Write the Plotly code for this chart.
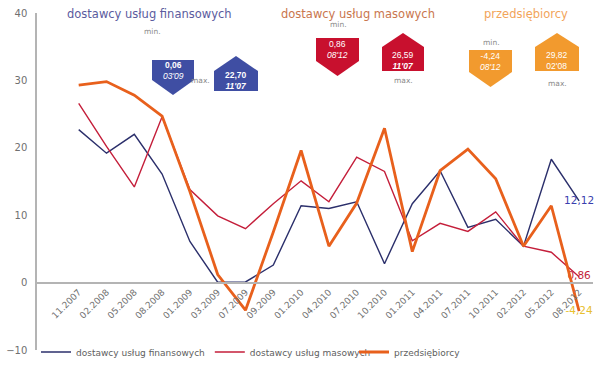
import plotly.graph_objects as go

categories = ["11.2007", "02.2008", "05.2008", "08.2008", "01.2009", "03.2009", "07.2009",
              "09.2009", "01.2010", "04.2010", "07.2010", "10.2010", "01.2011", "04.2011",
              "07.2011", "10.2011", "02.2012", "05.2012", "08.2012"]

finansowe = [22.70, 19.2, 22.0, 16.1, 6.1, 0.06, 0.1, 2.6, 11.4, 11.0, 12.0, 2.8, 11.7, 16.6,
             8.2, 9.4, 5.4, 18.3, 12.12]
masowe = [26.59, 20.2, 14.2, 24.6, 13.8, 9.9, 8.0, 11.7, 15.1, 12.0, 18.6, 16.5, 6.2, 8.8,
          7.6, 10.5, 5.4, 4.5, 0.86]
przedsiebiorcy = [29.3, 29.82, 27.8, 24.7, 13.5, 1.2, -4.1, 7.5, 19.6, 5.4, 11.8, 22.9, 4.6,
                  16.6, 19.8, 15.4, 5.4, 11.4, -4.24]

series_names = ["dostawcy usług finansowych", "dostawcy usług masowych", "przedsiębiorcy"]
line_colors = ["#2b2f6b", "#c41e3a", "#e8601c"]
line_widths = [1.4, 1.4, 2.8]
label_colors = ["#3a3fae", "#c41e3a", "#e8c030"]
box_colors = ["#3f4ea3", "#c8102e", "#f29a2e"]
title_colors = ["#5b5b9e", "#c9764e", "#f2a45a"]

W, H = 600, 383
L, R, T, B = 37, 593, 13, 350


def px2x(px):
    return (px - L) / (R - L)


def py2y(py):
    return (B - py) / (B - T)


def fmt(v):
    return f"{v:.2f}".replace(".", ",")


def date_lbl(c):
    m, y = c.split(".")
    return f"{m}'{y[2:]}"


fig = go.Figure()
all_series = [finansowe, masowe, przedsiebiorcy]
for i, (name, vals) in enumerate(zip(series_names, all_series)):
    txt = [""] * (len(vals) - 1) + [fmt(vals[-1])]
    fig.add_trace(go.Scatter(
        x=categories, y=vals, name=name, mode="lines+text",
        line=dict(color=line_colors[i], width=line_widths[i]),
        text=txt, textposition="middle center",
        textfont=dict(family="DejaVu Sans", size=10.5, color=label_colors[i]),
        legend="legend" if i < 2 else "legend2",
        cliponaxis=False,
    ))

# decorative min/max boxes (pixel layout)
box_layout = [
    (149, (152, 194, 60, 80, 95), (214, 258, 56, 71, 91), (152, 32), (212, 80, "right")),
    (358, (316, 359, 38, 61, 76), (382, 424, 33, 47, 71), (338, 24), (403, 81, "center")),
    (526, (469, 512, 50, 72, 87), (535, 579, 33, 47, 71), (491, 43), (557, 84, "center")),
]

shapes = []
annotations = []


def ann(px, py, text, size, color, family="DejaVu Sans", xanchor="center"):
    annotations.append(dict(x=px2x(px), y=py2y(py), xref="paper", yref="paper", text=text,
                            showarrow=False, xanchor=xanchor, yanchor="middle",
                            font=dict(family=family, size=size, color=color)))


for i, vals in enumerate(all_series):
    tcx, mn, mx, mnl, mxl = box_layout[i]
    ann(tcx, 14, series_names[i], 11.5, title_colors[i])
    x0, x1, yt, yrb, ytip = mn
    xc = (x0 + x1) / 2
    shapes.append(dict(type="path", xref="paper", yref="paper", fillcolor=box_colors[i],
                       line=dict(width=0),
                       path=f"M{px2x(x0)},{py2y(yt)} L{px2x(x1)},{py2y(yt)} L{px2x(x1)},{py2y(yrb)} "
                            f"L{px2x(xc)},{py2y(ytip)} L{px2x(x0)},{py2y(yrb)} Z"))
    x0b, x1b, ytb, ysh, ybot = mx
    xcb = (x0b + x1b) / 2
    shapes.append(dict(type="path", xref="paper", yref="paper", fillcolor=box_colors[i],
                       line=dict(width=0),
                       path=f"M{px2x(xcb)},{py2y(ytb)} L{px2x(x1b)},{py2y(ysh)} L{px2x(x1b)},{py2y(ybot)} "
                            f"L{px2x(x0b)},{py2y(ybot)} L{px2x(x0b)},{py2y(ysh)} Z"))
    imin = min(range(len(vals)), key=lambda k: vals[k])
    imax = max(range(len(vals)), key=lambda k: vals[k])
    bold = i == 0
    v1 = fmt(vals[imin])
    d1 = date_lbl(categories[imin])
    v2 = fmt(vals[imax])
    d2 = date_lbl(categories[imax])
    t_min = (f"<b>{v1}</b>" if bold else v1) + f"<br><i>{d1}</i>"
    t_max = (f"<b>{v2}</b>" if bold else v2) + (f"<br><b><i>{d2}</i></b>" if i < 2 else f"<br>{d2}")
    ann(xc, yt + 11, t_min, 8.5, "white", "Liberation Sans")
    ann(xcb, ybot - 10.5, t_max, 8.5, "white", "Liberation Sans")
    ann(mnl[0], mnl[1], "min.", 7.5, "#8a8a8a")
    ann(mxl[0], mxl[1], "max.", 7.5, "#8a8a8a", xanchor=mxl[2])

fig.update_layout(
    width=W, height=H,
    margin=dict(l=L, r=W - R, t=T, b=H - B),
    paper_bgcolor="white", plot_bgcolor="white",
    font=dict(family="DejaVu Sans", color="#707070"),
    shapes=shapes, annotations=annotations,
    legend=dict(orientation="h", x=px2x(36), xanchor="left", y=py2y(352), yanchor="middle",
                font=dict(size=9, color="#606060"), bgcolor="rgba(0,0,0,0)"),
    legend2=dict(orientation="h", x=px2x(354), xanchor="left", y=py2y(352), yanchor="middle",
                 font=dict(size=9, color="#606060"), bgcolor="rgba(0,0,0,0)"),
    xaxis=dict(type="category", categoryorder="array", categoryarray=categories,
               range=[-1.5, 18.5], anchor="free", position=0.2,
               showline=True, linecolor="#b4b4b4", linewidth=1.5,
               showgrid=False, zeroline=False, ticks="", tickangle=-45,
               tickfont=dict(size=9, color="#707070")),
    yaxis=dict(range=[-10, 40], dtick=10, showline=True, linecolor="#b4b4b4", linewidth=1.5,
               showgrid=False, zeroline=False, ticks="", ticklabelstandoff=6,
               tickfont=dict(size=10, color="#707070")),
)

fig.write_html("out.html", config={"displayModeBar": False},
               post_script="document.body.style.margin='0';")
